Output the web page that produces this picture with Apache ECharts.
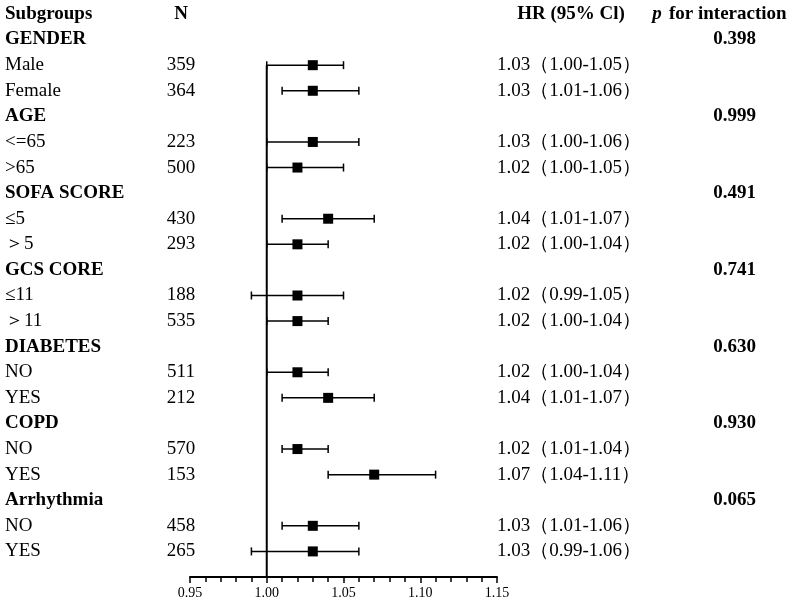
<!DOCTYPE html>
<html>
<head>
<meta charset="utf-8">
<script src="https://cdn.jsdelivr.net/npm/echarts@6/dist/echarts.min.js"></script>
<style>html,body{margin:0;padding:0;background:#fff;}#c{width:799px;height:603px;}</style>
</head>
<body>
<div id="c"></div>
<script>
// Row labels (row 0 = header, last row blank = axis baseline)
const rowLabels = ['Subgroups','GENDER','Male','Female','AGE','<=65','>65','SOFA SCORE','≤5','＞5','GCS CORE','≤11','＞11','DIABETES','NO','YES','COPD','NO','YES','Arrhythmia','NO','YES',''];
const rowType   = ['h','g','i','i','g','i','i','g','i','i','g','i','i','g','i','i','g','i','i','g','i','i','b'];
const nValues   = [null,null,359,364,null,223,500,null,430,293,null,188,535,null,511,212,null,570,153,null,458,265,null];
const hrValues  = [null,null,1.03,1.03,null,1.03,1.02,null,1.04,1.02,null,1.02,1.02,null,1.02,1.04,null,1.02,1.07,null,1.03,1.03,null];
const lowerCI   = [null,null,1.00,1.01,null,1.00,1.00,null,1.01,1.00,null,0.99,1.00,null,1.00,1.01,null,1.01,1.04,null,1.01,0.99,null];
const upperCI   = [null,null,1.05,1.06,null,1.06,1.05,null,1.07,1.04,null,1.05,1.04,null,1.04,1.07,null,1.04,1.11,null,1.06,1.06,null];
const pInteraction = [null,'0.398',null,null,'0.999',null,null,'0.491',null,null,'0.741',null,null,'0.630',null,null,'0.930',null,null,'0.065',null,null,null];
const xTicks = [0.95,1.00,1.05,1.10,1.15];

const cats = rowLabels.map((_, i) => String(i));
const ciData = [];
hrValues.forEach((v, i) => { if (v != null) ciData.push([lowerCI[i], upperCI[i], v, i]); });

const FONT = '"Liberation Serif","Times New Roman",serif';
const FS = 19;
const rs = (o) => Object.assign({fontFamily: FONT, fontSize: FS, color: '#000'}, o);

const chart = echarts.init(document.getElementById('c'), null, {renderer: 'canvas'});
chart.setOption({
  backgroundColor: '#fff',
  animation: false,
  grid: {left: 190, right: 302, top: 14, bottom: 26},
  xAxis: {
    type: 'value', min: xTicks[0], max: xTicks[xTicks.length - 1], interval: 0.05,
    axisLine: {show: true, onZero: false, lineStyle: {color: '#000', width: 2}},
    axisTick: {show: true, length: 6, lineStyle: {color: '#000', width: 1.5}},
    minorTick: {show: true, splitNumber: 5, length: 5, lineStyle: {color: '#000', width: 1.5}},
    splitLine: {show: false},
    axisLabel: {fontFamily: FONT, fontSize: 14, color: '#000', margin: 9, formatter: v => v.toFixed(2)}
  },
  yAxis: [{
    type: 'category', data: cats, inverse: true, boundaryGap: false,
    axisLine: {show: false}, axisTick: {show: false}, splitLine: {show: false},
    axisLabel: {
      interval: 0, margin: 185, align: 'left',
      formatter: (v) => {
        const i = Number(v);
        const t = rowType[i];
        if (t === 'h') return '{hb|' + rowLabels[i] + '}{nh|N}';
        if (t === 'g') return '{gb|' + rowLabels[i] + '}';
        if (t === 'i') return '{nm|' + rowLabels[i] + '}{n|' + nValues[i] + '}';
        return '';
      },
      rich: {
        hb: rs({fontWeight: 'bold', width: 161}),
        gb: rs({fontWeight: 'bold', width: 161}),
        nm: rs({width: 161}),
        nh: rs({fontWeight: 'bold', width: 30, align: 'center'}),
        n: rs({width: 30, align: 'center'})
      }
    }
  }, {
    type: 'category', data: cats, inverse: true, boundaryGap: false, position: 'right',
    axisLine: {show: false}, axisTick: {show: false}, splitLine: {show: false},
    axisLabel: {
      interval: 0, margin: 0, align: 'left',
      formatter: (v) => {
        const i = Number(v);
        const t = rowType[i];
        if (t === 'h') return '{hrh|HR (95% Cl)}{pi|p}{ph|for interaction}';
        if (t === 'g') return '{sp| }{pv|' + pInteraction[i] + '}';
        if (t === 'i') return '{hr|' + hrValues[i].toFixed(2) + '（' + lowerCI[i].toFixed(2) + '-' + upperCI[i].toFixed(2) + '）}';
        return '';
      },
      rich: {
        hrh: rs({fontWeight: 'bold', width: 148, align: 'center'}),
        pi: rs({fontWeight: 'bold', fontStyle: 'italic', width: 24}),
        ph: rs({fontWeight: 'bold'}),
        hr: rs({width: 153}),
        sp: rs({width: 153}),
        pv: rs({fontWeight: 'bold', width: 106, align: 'right'})
      }
    }
  }],
  series: [{
    type: 'line', yAxisIndex: 0, data: [[1.0, 2], [1.0, 22]],
    symbol: 'none', lineStyle: {color: '#000', width: 2}, z: 1, silent: true
  }, {
    type: 'custom', yAxisIndex: 0, data: ciData,
    encode: {x: [0, 1, 2], y: 3},
    renderItem: (params, api) => {
      const y = api.value(3);
      const pl = api.coord([api.value(0), y]);
      const pu = api.coord([api.value(1), y]);
      const pm = api.coord([api.value(2), y]);
      const cap = 4, half = 5;
      const ls = {stroke: '#000', lineWidth: 1.5};
      return {type: 'group', children: [
        {type: 'line', shape: {x1: pl[0], y1: pl[1], x2: pu[0], y2: pu[1]}, style: ls},
        {type: 'line', shape: {x1: pl[0], y1: pl[1] - cap, x2: pl[0], y2: pl[1] + cap}, style: ls},
        {type: 'line', shape: {x1: pu[0], y1: pu[1] - cap, x2: pu[0], y2: pu[1] + cap}, style: ls},
        {type: 'rect', shape: {x: pm[0] - half, y: pm[1] - half, width: half * 2, height: half * 2}, style: {fill: '#000'}}
      ]};
    },
    z: 2
  }]
});
</script>
</body>
</html>
